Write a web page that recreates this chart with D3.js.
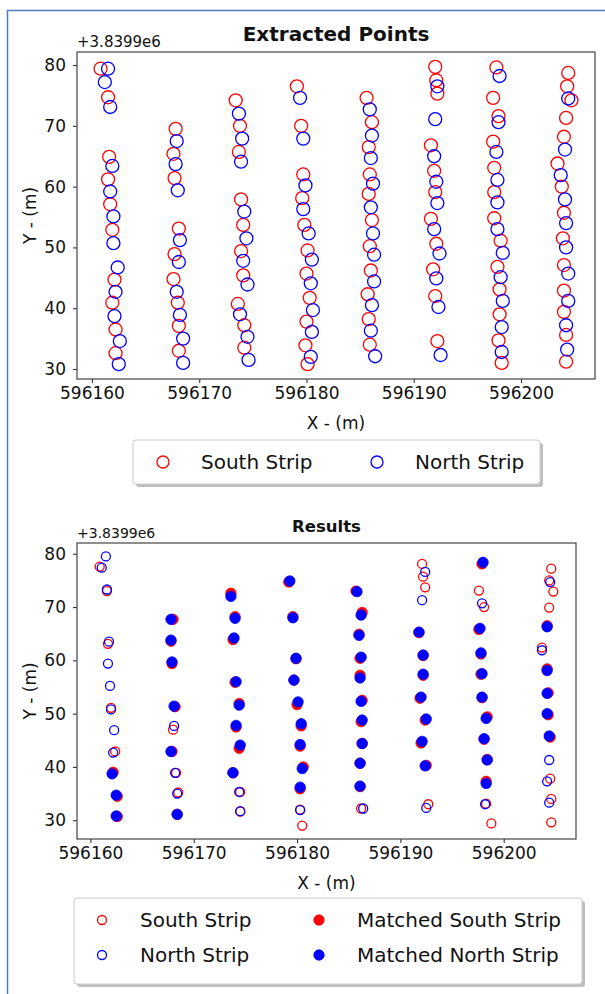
<!DOCTYPE html>
<html>
<head>
<meta charset="utf-8">
<script src="https://cdn.jsdelivr.net/npm/d3@7"></script>
<style>
  body { margin: 0; background: #fff; }
  svg text { font-family: "DejaVu Sans", sans-serif; fill: #111; }
</style>
</head>
<body>
<svg id="chart" width="605" height="994"></svg>
<script>
// Y values are stored minus the 3.8399e6 offset shown on the axis
let xTicks = [596160, 596170, 596180, 596190, 596200];
let yTicks = [30, 40, 50, 60, 70, 80];
let offsetLabel = "+3.8399e6";

let extractedSouth = [
  [596160.8,79.4],[596161.5,74.7],[596161.6,64.9],[596161.5,61.2],[596161.7,57.1],[596161.9,52.9],[596162.1,44.7],[596161.9,40.9],[596162.2,36.5],[596162.2,32.6],
  [596167.8,69.5],[596167.6,65.4],[596167.7,61.4],[596168.1,53.1],[596167.7,48.9],[596167.6,44.8],[596168.0,40.9],[596168.1,37.1],[596168.1,33.0],
  [596173.4,74.2],[596173.8,70.0],[596173.7,65.7],[596173.9,57.9],[596174.1,53.7],[596173.9,49.4],[596174.1,45.4],[596173.6,40.7],[596174.2,37.2],[596174.2,33.5],
  [596179.1,76.5],[596179.5,70.0],[596179.7,62.0],[596179.6,58.1],[596179.8,53.7],[596180.1,49.5],[596180.0,45.7],[596180.3,41.7],[596180.0,37.8],[596179.9,33.9],[596180.1,30.8],
  [596185.6,74.6],[596186.1,70.6],[596185.8,66.5],[596185.9,62.0],[596185.8,58.8],[596186.1,54.5],[596185.9,50.2],[596186.0,46.2],[596185.7,42.3],[596185.8,38.2],[596185.9,34.0],
  [596192.0,79.7],[596192.1,77.5],[596192.2,75.3],[596191.6,66.8],[596191.9,62.6],[596192.0,59.1],[596191.6,54.7],[596192.1,50.6],[596191.8,46.4],[596192.0,42.0],[596192.2,34.6],
  [596197.7,79.6],[596197.4,74.6],[596197.9,71.6],[596197.4,67.4],[596197.5,63.1],[596197.5,59.1],[596197.5,54.8],[596198.1,51.1],[596197.8,46.8],[596198.0,43.1],[596198.0,39.0],[596197.9,34.7],[596198.2,31.0],
  [596204.4,78.7],[596204.3,76.5],[596204.7,74.2],[596204.2,71.3],[596204.0,68.2],[596203.4,63.8],[596203.8,60.0],[596204.0,55.7],[596203.9,51.5],[596204.0,47.1],[596204.0,42.9],[596204.0,39.4],[596204.2,35.6],[596204.2,31.2]
];

let extractedNorth = [
  [596161.5,79.4],[596161.2,77.2],[596161.7,73.1],[596161.9,63.4],[596161.7,59.2],[596162.0,55.1],[596162.0,50.7],[596162.4,46.7],[596162.2,42.7],[596162.1,38.7],[596162.6,34.6],[596162.5,30.8],
  [596167.9,67.5],[596167.8,63.7],[596168.0,59.4],[596168.2,51.2],[596168.1,47.6],[596167.9,42.7],[596168.2,38.9],[596168.5,35.0],[596168.5,31.0],
  [596173.7,72.0],[596174.0,67.9],[596173.9,64.1],[596174.2,55.9],[596174.4,51.5],[596174.1,47.8],[596174.5,43.9],[596173.8,39.0],[596174.5,35.3],[596174.6,31.5],
  [596179.4,74.6],[596179.7,67.9],[596179.9,60.2],[596179.7,56.3],[596180.2,52.3],[596180.5,48.0],[596180.4,44.1],[596180.6,39.7],[596180.5,36.1],[596180.4,32.0],
  [596185.9,72.7],[596186.1,68.4],[596186.0,64.7],[596186.2,60.5],[596186.0,56.6],[596186.2,52.3],[596186.3,48.8],[596186.3,44.4],[596186.1,40.5],[596186.0,36.3],[596186.4,32.1],
  [596192.2,76.5],[596192.0,71.1],[596191.9,65.0],[596192.1,60.8],[596192.2,57.3],[596191.9,53.0],[596192.4,49.0],[596192.1,44.9],[596192.3,40.2],[596192.5,32.3],
  [596198.0,78.2],[596197.9,70.6],[596197.7,65.7],[596197.8,61.1],[596197.8,57.4],[596197.8,53.0],[596198.3,49.1],[596198.1,45.1],[596198.3,41.2],[596198.2,36.9],[596198.2,32.8],
  [596204.4,74.5],[596204.1,66.1],[596203.7,61.9],[596204.1,57.9],[596204.2,54.0],[596204.2,50.0],[596204.4,45.7],[596204.4,41.2],[596204.2,37.2],[596204.3,33.2]
];

let resultSouth = [
  [596160.9,77.6],[596161.6,73.0],[596161.7,63.1],[596162.0,51.1],[596162.4,42.9],
  [596168.0,47.0],[596168.3,38.9],[596168.5,35.2],
  [596174.5,35.3],[596174.5,31.6],
  [596180.3,32.0],[596180.5,29.0],
  [596186.2,32.2],
  [596192.1,78.1],[596192.2,75.7],[596192.4,73.7],[596192.7,33.0],
  [596197.6,73.1],[596198.1,70.0],[596198.3,33.1],[596198.8,29.4],
  [596204.6,77.2],[596204.4,75.0],[596204.8,72.9],[596204.4,69.9],[596203.7,62.4],[596204.5,37.8],[596204.6,34.0],[596204.6,29.6]
];

let resultNorth = [
  [596161.5,79.5],[596161.1,77.4],[596161.6,73.3],[596161.8,63.5],[596161.7,59.4],[596161.9,55.2],[596162.0,50.8],[596162.3,46.9],[596162.2,42.7],
  [596168.1,47.7],[596168.2,38.9],[596168.4,35.0],
  [596174.4,35.3],[596174.5,31.7],
  [596180.3,31.9],
  [596186.4,32.2],
  [596192.4,76.6],[596192.1,71.3],[596192.5,32.3],
  [596197.9,70.7],[596198.2,33.0],
  [596204.5,74.7],[596203.7,61.9],[596204.4,41.3],[596204.2,37.3],[596204.4,33.3]
];

let matchedSouth = [
  [596162.2,39.0],[596162.6,34.5],[596162.6,30.7],
  [596168.0,67.7],[596167.8,63.6],[596167.9,59.4],[596168.2,51.3],[596167.9,42.9],[596168.4,31.1],
  [596173.6,72.6],[596174.0,68.2],[596173.8,63.9],[596174.0,55.9],[596174.4,51.9],[596174.1,47.5],[596174.4,43.5],[596173.8,38.9],
  [596179.2,74.7],[596179.6,68.2],[596179.9,60.3],[596179.7,56.3],[596180.0,51.7],[596180.4,47.7],[596180.3,43.9],[596180.6,40.0],[596180.3,35.9],
  [596185.7,73.0],[596186.3,69.0],[596186.0,64.9],[596186.1,60.4],[596186.1,57.2],[596186.3,52.5],[596186.2,48.5],[596186.3,44.4],[596186.1,40.7],[596186.1,36.3],
  [596191.8,65.2],[596192.2,60.9],[596192.2,57.2],[596191.9,52.9],[596192.4,48.8],[596192.0,44.5],[596192.5,40.3],
  [596197.9,78.1],[596197.6,65.8],[596197.8,61.2],[596197.8,57.4],[596197.9,53.0],[596198.4,49.4],[596198.1,45.2],[596198.4,41.4],[596198.3,37.3],
  [596204.2,66.5],[596204.2,58.4],[596204.3,53.9],[596204.3,49.8],[596204.5,45.6]
];

let matchedNorth = [
  [596162.1,38.7],[596162.5,34.7],[596162.5,30.8],
  [596167.8,67.7],[596167.8,63.8],[596167.9,59.7],[596168.1,51.4],[596167.8,42.9],[596168.4,31.1],
  [596173.6,72.0],[596174.0,67.9],[596173.9,64.2],[596174.1,56.0],[596174.4,51.6],[596174.1,47.8],[596174.5,44.1],[596173.8,38.9],
  [596179.3,74.9],[596179.6,68.0],[596179.9,60.4],[596179.7,56.3],[596180.1,52.2],[596180.4,48.1],[596180.3,44.2],[596180.5,39.7],[596180.3,36.2],
  [596185.8,72.9],[596186.2,68.5],[596186.0,64.7],[596186.2,60.6],[596186.1,56.7],[596186.2,52.3],[596186.3,48.8],[596186.3,44.4],[596186.1,40.7],[596186.1,36.4],
  [596191.8,65.3],[596192.2,61.0],[596192.2,57.4],[596192.0,53.1],[596192.5,49.0],[596192.1,44.8],[596192.4,40.2],
  [596198.0,78.4],[596197.7,66.0],[596197.8,61.4],[596197.9,57.5],[596197.9,53.1],[596198.3,49.1],[596198.1,45.3],[596198.4,41.3],[596198.3,36.9],
  [596204.2,66.3],[596204.2,58.1],[596204.2,53.8],[596204.2,50.0],[596204.4,45.8]
];

let svg = d3.select("#chart");

// page border (document frame)
svg.append("path")
  .attr("d", "M7.5,994 V10.5 H605")
  .attr("fill", "none")
  .attr("stroke", "#4a7dbf")
  .attr("stroke-width", 1.5);

// matplotlib style 5% margins
function padded(values) {
  let [lo, hi] = d3.extent(values);
  let p = (hi - lo) * 0.05;
  return [lo - p, hi + p];
}

function drawPanel(opts) {
  let { left, top, right, bottom, title, titleSize, offsetSize, all } = opts;

  let x = d3.scaleLinear()
    .domain(padded(all.map(d => d[0])))
    .range([left, right]);
  let y = d3.scaleLinear()
    .domain(padded(all.map(d => d[1])))
    .range([bottom, top]);

  let g = svg.append("g");

  g.append("rect")
    .attr("x", left).attr("y", top)
    .attr("width", right - left).attr("height", bottom - top)
    .attr("fill", "#fff");

  let xAxis = g.append("g")
    .attr("transform", `translate(0,${bottom})`)
    .call(d3.axisBottom(x).tickValues(xTicks).tickFormat(d3.format("d")).tickSize(4).tickPadding(4));
  let yAxis = g.append("g")
    .attr("transform", `translate(${left},0)`)
    .call(d3.axisLeft(y).tickValues(yTicks).tickFormat(d3.format("d")).tickSize(4).tickPadding(7));

  [xAxis, yAxis].forEach(a => {
    a.select(".domain").remove();
    a.selectAll("line").attr("stroke", "#333").attr("stroke-width", 1.1);
    a.selectAll("text").style("font-size", "17px").attr("fill", "#111");
  });

  g.append("text")
    .attr("x", (left + right) / 2).attr("y", top - 11)
    .attr("text-anchor", "middle")
    .style("font-size", titleSize + "px")
    .style("font-weight", "bold")
    .text(title);

  g.append("text")
    .attr("x", left).attr("y", top - 5)
    .style("font-size", offsetSize + "px")
    .text(offsetLabel);

  g.append("text")
    .attr("x", (left + right) / 2).attr("y", bottom + 50)
    .attr("text-anchor", "middle")
    .style("font-size", "17px")
    .text("X - (m)");

  g.append("text")
    .attr("transform", `translate(36,${(top + bottom) / 2}) rotate(-90)`)
    .attr("text-anchor", "middle")
    .style("font-size", "17px")
    .text("Y - (m)");

  let marks = g.append("g");

  opts.layers.forEach(layer => {
    marks.selectAll(null)
      .data(layer.data)
      .enter()
      .append("circle")
      .attr("cx", d => x(d[0]))
      .attr("cy", d => y(d[1]))
      .attr("r", layer.r)
      .attr("fill", layer.filled ? layer.color : "none")
      .attr("stroke", layer.color)
      .attr("stroke-width", layer.filled ? 0.8 : 1.3);
  });

  g.append("rect")
    .attr("x", left).attr("y", top)
    .attr("width", right - left).attr("height", bottom - top)
    .attr("fill", "none")
    .attr("stroke", "#444")
    .attr("stroke-width", 1.2);
}

drawPanel({
  left: 77, top: 52, right: 595, bottom: 379,
  title: "Extracted Points", titleSize: 20, offsetSize: 15,
  all: extractedSouth.concat(extractedNorth),
  layers: [
    { data: extractedSouth, color: "red", r: 6.5, filled: false },
    { data: extractedNorth, color: "blue", r: 6.5, filled: false }
  ]
});

drawPanel({
  left: 77, top: 543, right: 576, bottom: 839,
  title: "Results", titleSize: 16.5, offsetSize: 14,
  all: resultSouth.concat(resultNorth, matchedSouth, matchedNorth),
  layers: [
    { data: resultSouth, color: "red", r: 4.5, filled: false },
    { data: resultNorth, color: "blue", r: 4.5, filled: false },
    { data: matchedSouth, color: "red", r: 5.2, filled: true },
    { data: matchedNorth, color: "blue", r: 5.2, filled: true }
  ]
});

// legends
function legendBox(x0, y0, w, h) {
  svg.append("rect")
    .attr("x", x0 + 3).attr("y", y0 + 3)
    .attr("width", w).attr("height", h)
    .attr("rx", 3)
    .attr("fill", "#888").attr("opacity", 0.55);
  svg.append("rect")
    .attr("x", x0).attr("y", y0)
    .attr("width", w).attr("height", h)
    .attr("rx", 3)
    .attr("fill", "#fff")
    .attr("stroke", "#ccc");
}

function legendItem(cx, cy, color, r, filled, label) {
  svg.append("circle")
    .attr("cx", cx).attr("cy", cy).attr("r", r)
    .attr("fill", filled ? color : "none")
    .attr("stroke", color)
    .attr("stroke-width", filled ? 0.8 : 1.3);
  svg.append("text")
    .attr("x", cx + 38).attr("y", cy)
    .attr("dy", "0.35em")
    .style("font-size", "20px")
    .text(label);
}

legendBox(133, 440, 407, 44);
legendItem(163, 462, "red", 6, false, "South Strip");
legendItem(377, 462, "blue", 6, false, "North Strip");

legendBox(74, 898, 508, 86);
legendItem(102, 920, "red", 4.5, false, "South Strip");
legendItem(102, 955, "blue", 4.5, false, "North Strip");
legendItem(319, 920, "red", 5.2, true, "Matched South Strip");
legendItem(319, 955, "blue", 5.2, true, "Matched North Strip");
</script>
</body>
</html>
